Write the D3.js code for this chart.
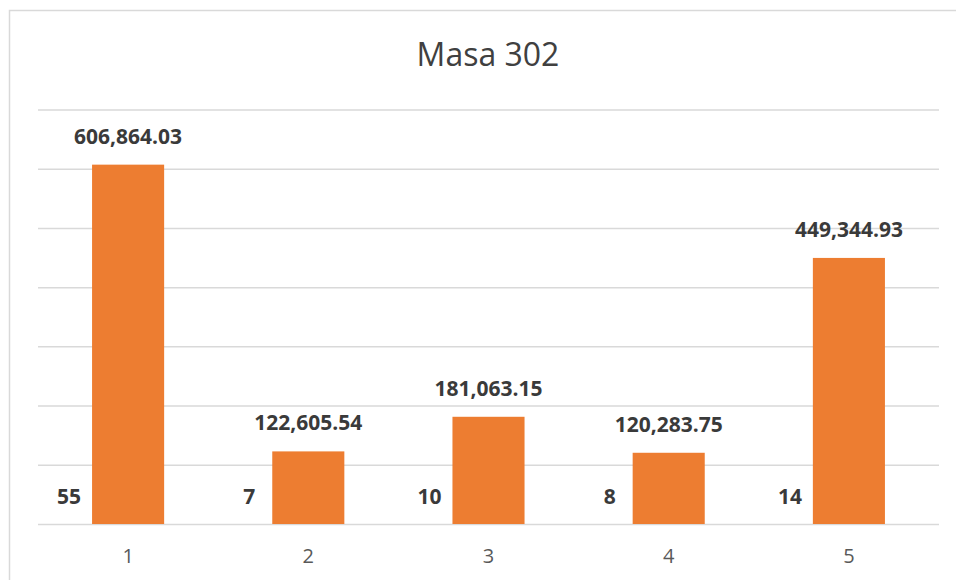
<!DOCTYPE html>
<html>
<head>
<meta charset="utf-8">
<script src="https://cdn.jsdelivr.net/npm/d3@7"></script>
<style>
  body { margin: 0; background: #fff; }
  svg { display: block; font-family: "Open Sans", sans-serif; }
</style>
</head>
<body>
<div id="chart"></div>
<script>
// Data
var CATEGORIES = ['1', '2', '3', '4', '5'];
var AMOUNTS = [606864.03, 122605.54, 181063.15, 120283.75, 449344.93];
var COUNTS = [55, 7, 10, 8, 14];
var Y_TICKS = [0, 100000, 200000, 300000, 400000, 500000, 600000, 700000];
var TITLE = 'Masa 302';

var W = 956, H = 580;
var margin = {top: 109.5, right: 17, bottom: 56, left: 38};
var width = W - margin.left - margin.right;
var height = H - margin.top - margin.bottom;

var svg = d3.select('#chart').append('svg')
    .attr('width', W)
    .attr('height', H);

// chart border (right/bottom run off the picture)
svg.append('rect')
    .attr('x', 9.5).attr('y', 10.5)
    .attr('width', W).attr('height', H)
    .attr('fill', 'none')
    .attr('stroke', '#d9d9d9')
    .attr('stroke-width', 1.5);

svg.append('text')
    .attr('x', 488)
    .attr('y', 66)
    .attr('text-anchor', 'middle')
    .style('font-size', '32px')
    .style('fill', '#404040')
    .text(TITLE);

var g = svg.append('g')
    .attr('transform', 'translate(' + margin.left + ',' + margin.top + ')');

var x = d3.scaleBand()
    .domain(CATEGORIES)
    .range([0, width])
    .paddingInner(0.6)
    .paddingOuter(0.3);

var y = d3.scaleLinear()
    .domain([0, 700000])
    .range([height, 0]);

// gridlines
g.append('g')
    .attr('class', 'grid')
    .call(d3.axisLeft(y).tickValues(Y_TICKS).tickSize(-width).tickFormat(''))
    .call(function(s) { s.select('.domain').remove(); })
    .selectAll('line')
      .attr('stroke', '#d9d9d9')
      .attr('stroke-width', 1.5);

// x axis labels
g.append('g')
    .attr('transform', 'translate(0,' + height + ')')
    .call(d3.axisBottom(x).tickSize(0).tickPadding(0))
    .call(function(s) { s.select('.domain').remove(); })
    .selectAll('text')
      .attr('dy', 0)
      .attr('y', 39)
      .style('font-family', '"Open Sans", sans-serif')
      .style('font-size', '20px')
      .style('fill', '#595959');

// bars
g.selectAll('.bar')
    .data(AMOUNTS)
  .enter().append('rect')
    .attr('class', 'bar')
    .attr('x', function(d, i) { return x(CATEGORIES[i]); })
    .attr('y', function(d) { return y(d); })
    .attr('width', x.bandwidth())
    .attr('height', function(d) { return height - y(d); })
    .attr('fill', '#ed7d31');

var fmt = d3.format(',.2f');

// amount labels
g.selectAll('.amount')
    .data(AMOUNTS)
  .enter().append('text')
    .attr('class', 'amount')
    .attr('x', function(d, i) { return x(CATEGORIES[i]) + x.bandwidth() / 2; })
    .attr('y', function(d) { return y(d) - 21; })
    .attr('text-anchor', 'middle')
    .style('font-size', '21px')
    .style('font-weight', 'bold')
    .style('fill', '#3a3a3a')
    .text(function(d) { return fmt(d); });

// count labels sit left of each bar, near the base
g.selectAll('.count')
    .data(COUNTS)
  .enter().append('text')
    .attr('class', 'count')
    .attr('x', function(d, i) { return x(CATEGORIES[i]) + x.bandwidth() / 2 - 59; })
    .attr('y', height - 20)
    .attr('text-anchor', 'middle')
    .style('font-size', '21px')
    .style('font-weight', 'bold')
    .style('fill', '#3a3a3a')
    .text(function(d) { return d; });
</script>
</body>
</html>
